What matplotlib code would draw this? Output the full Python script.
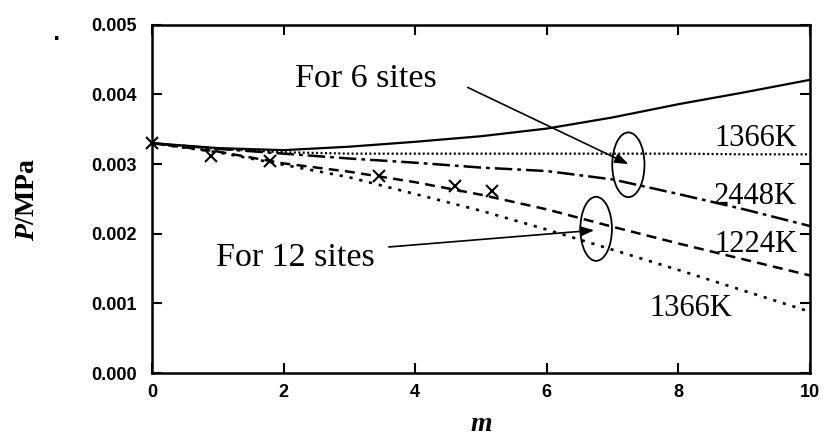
import numpy as np
import matplotlib
matplotlib.use("Agg")
import matplotlib.pyplot as plt
from matplotlib.patches import Ellipse

plt.rcParams["mathtext.fontset"] = "custom"
plt.rcParams["mathtext.it"] = "Liberation Serif:italic:bold"
plt.rcParams["mathtext.rm"] = "Liberation Serif:bold"

# number of sites m and computed pressures (units of 1e-3 MPa)
m = [0, 1, 2, 3, 4, 5, 6, 7, 8, 9, 10]
p_upper = [3.30, 3.23, 3.20, 3.25, 3.32, 3.40, 3.51, 3.67, 3.86, 4.03, 4.21]
p_6_1366 = [3.30, 3.22, 3.17, 3.15, 3.15, 3.15, 3.15, 3.15, 3.15, 3.14, 3.14]
p_6_2448 = [3.30, 3.22, 3.15, 3.08, 3.02, 2.95, 2.90, 2.78, 2.57, 2.35, 2.11]
p_12_1224 = [3.30, 3.18, 3.01, 2.89, 2.74, 2.56, 2.35, 2.10, 1.86, 1.63, 1.40]
p_12_1366 = [3.30, 3.17, 2.99, 2.81, 2.57, 2.33, 2.06, 1.77, 1.48, 1.18, 0.88]

# measured points
m_exp = [0.0, 0.9, 1.8, 3.45, 4.6, 5.17]
p_exp = [3.30, 3.11, 3.04, 2.83, 2.68, 2.62]

x_ticks = [0, 2, 4, 6, 8, 10]
y_ticks = [0.000, 0.001, 0.002, 0.003, 0.004, 0.005]

scale = 1e-3

fig = plt.figure(figsize=(8.25, 4.43), dpi=100)
ax = fig.add_axes([0.1842, 0.158, 0.7976, 0.786])

ax.plot(m, np.array(p_upper) * scale, color="black", lw=1.6, ls="-")
ax.plot(m, np.array(p_6_1366) * scale, color="black", lw=1.6, ls=(0, (0.9, 1.1)))
ax.plot(m, np.array(p_6_2448) * scale, color="black", lw=1.8, ls=(0, (7, 2, 1.5, 2)))
ax.plot(m, np.array(p_12_1224) * scale, color="black", lw=1.8, ls=(0, (4, 2.5)))
ax.plot(m, np.array(p_12_1366) * scale, color="black", lw=1.9, ls=(0, (1.2, 2.6)))
ax.plot(m_exp, np.array(p_exp) * scale, ls="none", marker="x", ms=8,
        mew=1.5, color="black", clip_on=False)

ax.set_xlim(0, 10)
ax.set_ylim(0, 0.005)
ax.set_xticks(x_ticks)
ax.set_yticks(y_ticks)
ax.set_xticklabels([str(v) for v in x_ticks])
ax.set_yticklabels([f"{v:.3f}" for v in y_ticks])
ax.tick_params(direction="in", length=7, width=1.5, top=True, right=True,
               labelsize=13)
ax.tick_params(axis="y", pad=11)
ax.tick_params(axis="x", pad=8)
for lbl in ax.get_xticklabels() + ax.get_yticklabels():
    lbl.set_fontfamily("Liberation Sans")
    lbl.set_fontweight("bold")
for sp in ax.spines.values():
    sp.set_linewidth(1.8)

ax.set_xlabel("m", fontsize=20, fontfamily="Liberation Serif",
              fontstyle="italic", fontweight="bold", labelpad=8)
ax.set_ylabel(r"$P$/MPa", fontsize=20, fontfamily="Liberation Serif",
              fontweight="bold", labelpad=37)

# curve labels
serif = "Liberation Serif"
ax.text(8.54, 3.26e-3, "1366K", fontsize=22, fontfamily=serif, va="baseline")
ax.text(8.54, 2.42e-3, "2448K", fontsize=22, fontfamily=serif, va="baseline")
ax.text(8.55, 1.74e-3, "1224K", fontsize=22, fontfamily=serif, va="baseline")
ax.text(7.56, 0.82e-3, "1366K", fontsize=22, fontfamily=serif, va="baseline")

# site-group callouts
ax.text(2.18, 4.10e-3, "For 6 sites", fontsize=24.5, fontfamily=serif,
        va="baseline")
ax.text(0.97, 1.53e-3, "For 12 sites", fontsize=24.5, fontfamily=serif,
        va="baseline")

ax.add_patch(Ellipse((7.24, 2.99e-3), 0.49, 0.93e-3, fill=False,
                     edgecolor="black", lw=1.3))
ax.add_patch(Ellipse((6.75, 2.07e-3), 0.48, 0.92e-3, fill=False,
                     edgecolor="black", lw=1.3))

arrow = dict(arrowstyle="-|>,head_length=0.8,head_width=0.3",
             color="black", lw=1.2, shrinkA=0, shrinkB=0)
ax.annotate("", xy=(7.24, 3.00e-3), xytext=(4.80, 4.10e-3), arrowprops=arrow)
ax.annotate("", xy=(6.72, 2.05e-3), xytext=(3.60, 1.81e-3), arrowprops=arrow)

fig.text(57 / 825, 1 - 35 / 443, ".", fontsize=14, fontweight="bold",
         ha="center", va="center")

fig.savefig("out.png", dpi=100)
